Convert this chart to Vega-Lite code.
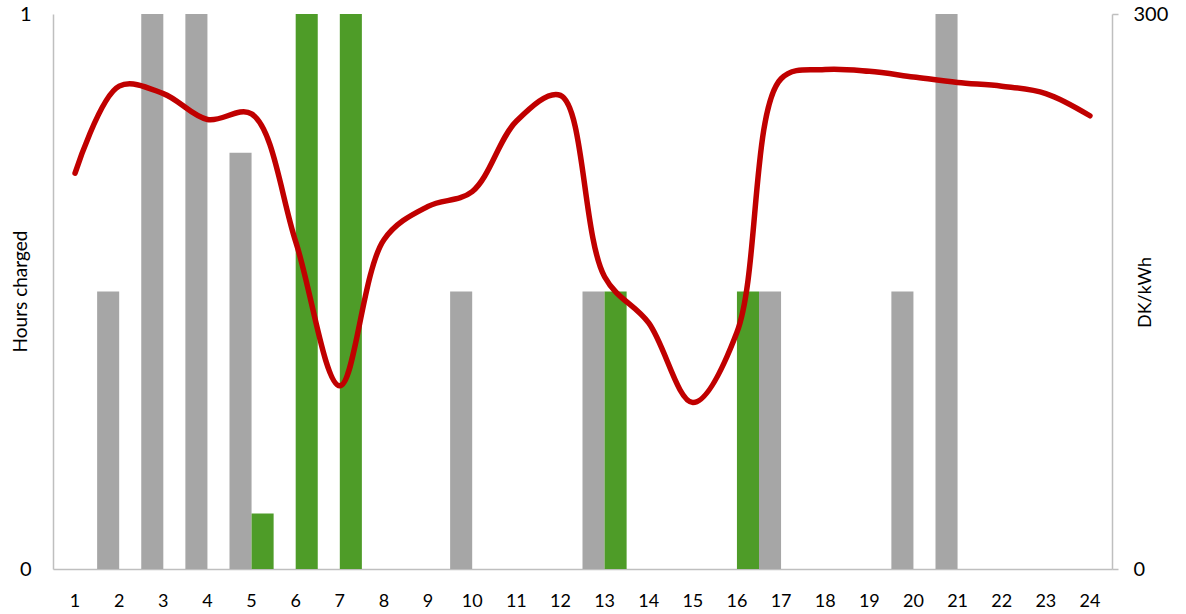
{
  "$schema": "https://vega.github.io/schema/vega-lite/v6.json",
  "width": 1059,
  "height": 555,
  "autosize": {"type": "none"},
  "padding": {"left": 53, "top": 14, "right": 74, "bottom": 45},
  "background": "white",
  "config": {
    "view": {"stroke": null},
    "font": "Lato",
    "axis": {"labelFont": "Lato", "titleFont": "Lato", "labelColor": "#000000", "titleColor": "#000000", "grid": false, "domainColor": "#BFBFBF", "domainWidth": 1.5, "titleFontWeight": "normal"}
  },
  "datasets": {
    "bars": [
      {"hour": "2", "series": "a", "hours": 0.5},
      {"hour": "3", "series": "a", "hours": 1},
      {"hour": "4", "series": "a", "hours": 1},
      {"hour": "5", "series": "a", "hours": 0.75},
      {"hour": "5", "series": "b", "hours": 0.1},
      {"hour": "6", "series": "b", "hours": 1},
      {"hour": "7", "series": "b", "hours": 1},
      {"hour": "10", "series": "a", "hours": 0.5},
      {"hour": "13", "series": "a", "hours": 0.5},
      {"hour": "13", "series": "b", "hours": 0.5},
      {"hour": "16", "series": "b", "hours": 0.5},
      {"hour": "17", "series": "a", "hours": 0.5},
      {"hour": "20", "series": "a", "hours": 0.5},
      {"hour": "21", "series": "a", "hours": 1}
    ],
    "price": [
      {"hour": "1", "price": 214},
      {"hour": "2", "price": 261},
      {"hour": "3", "price": 257},
      {"hour": "4", "price": 243},
      {"hour": "5", "price": 246},
      {"hour": "6", "price": 177},
      {"hour": "7", "price": 99},
      {"hour": "8", "price": 178},
      {"hour": "9", "price": 196},
      {"hour": "10", "price": 204},
      {"hour": "11", "price": 242},
      {"hour": "12", "price": 256},
      {"hour": "13", "price": 158},
      {"hour": "14", "price": 133},
      {"hour": "15", "price": 90},
      {"hour": "16", "price": 128},
      {"hour": "17", "price": 265},
      {"hour": "18", "price": 270},
      {"hour": "19", "price": 269},
      {"hour": "20", "price": 266},
      {"hour": "21", "price": 263},
      {"hour": "22", "price": 261},
      {"hour": "23", "price": 257},
      {"hour": "24", "price": 245}
    ]
  },
  "layer": [
    {
      "data": {"name": "bars"},
      "mark": {"type": "bar"},
      "encoding": {
        "x": {
          "field": "hour", "type": "ordinal",
          "scale": {"domain": ["1","2","3","4","5","6","7","8","9","10","11","12","13","14","15","16","17","18","19","20","21","22","23","24"], "paddingInner": 0, "paddingOuter": 0},
          "axis": {"title": null, "labelAngle": 0, "ticks": false, "labelFontSize": 18, "labelPadding": 32, "labelBaseline": "middle"}
        },
        "xOffset": {"field": "series", "type": "nominal", "scale": {"domain": ["a", "b"], "paddingInner": 0, "paddingOuter": 0}},
        "y": {
          "field": "hours", "type": "quantitative",
          "scale": {"domain": [0, 1], "nice": false},
          "axis": {"values": [0, 1], "format": "d", "ticks": false, "labelFontSize": 20, "labelPadding": 22, "title": "Hours charged", "titleFontSize": 19, "titleX": -33, "titleY": 277, "titleAngle": -90, "titleAlign": "center", "titleBaseline": "middle"}
        },
        "color": {"field": "series", "type": "nominal", "scale": {"domain": ["a", "b"], "range": ["#A6A6A6", "#4E9C28"]}, "legend": null}
      }
    },
    {
      "data": {"name": "price"},
      "mark": {"type": "line", "interpolate": "catmull-rom", "color": "#C00000", "strokeWidth": 5.5, "strokeCap": "round"},
      "encoding": {
        "x": {"field": "hour", "type": "ordinal"},
        "y": {
          "field": "price", "type": "quantitative",
          "scale": {"domain": [0, 300], "nice": false},
          "axis": {"orient": "right", "values": [0, 300], "ticks": true, "tickSize": 6, "tickColor": "#BFBFBF", "tickWidth": 1.5, "labelFontSize": 20, "labelPadding": 15, "title": "DK/kWh", "titleFontSize": 18, "titleX": 33, "titleY": 278, "titleAngle": -90, "titleAlign": "center", "titleBaseline": "middle"}
        }
      }
    }
  ],
  "resolve": {"scale": {"y": "independent"}}
}
